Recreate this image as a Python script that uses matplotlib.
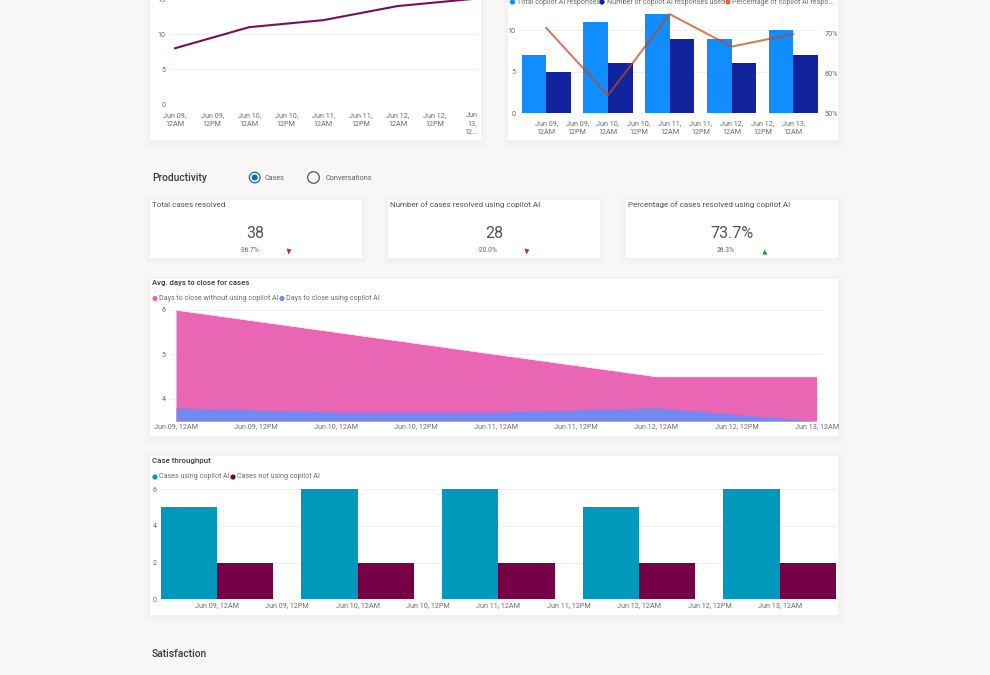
import matplotlib
matplotlib.use("Agg")
import matplotlib.pyplot as plt
from matplotlib.patches import Rectangle, Circle

plt.rcParams['font.family'] = ['Roboto', 'DejaVu Sans']

W = 990; H = 675
bg_color = '#f8f7f6'
title_color = '#3b3a39'
tick_color = '#6f6d6b'
grid_color = '#f0f0f0'

# Half day tick labels
half_days = ['Jun 09, 12AM', 'Jun 09, 12PM', 'Jun 10, 12AM', 'Jun 10, 12PM', 'Jun 11, 12AM',
             'Jun 11, 12PM', 'Jun 12, 12AM', 'Jun 12, 12PM', 'Jun 13, 12AM']
half_days_wrapped = ['Jun 09,\n12AM', 'Jun 09,\n12PM', 'Jun 10,\n12AM', 'Jun 10,\n12PM', 'Jun 11,\n12AM',
                     'Jun 11,\n12PM', 'Jun 12,\n12AM', 'Jun 12,\n12PM', 'Jun 13,\n12AM']
half_days_cut = half_days_wrapped[:-1] + ['Jun\n13,\n12...']
tick_pos = [0, 1, 2, 3, 4, 5, 6, 7, 8]
day_pos = [0, 2, 4, 6, 8]

# Top left line chart
line_values = [8, 11, 12, 14, 15]

# Top right combo chart
total_responses = [7, 11, 12, 9, 10]
used_responses = [5, 6, 9, 6, 7]
pct_responses = [71.5, 54.5, 75, 66.8, 70]

# KPI cards
kpi_titles = ['Total cases resolved', 'Number of cases resolved using copilot AI',
              'Percentage of cases resolved using copilot AI']
kpi_values = ['38', '28', '73.7%']
kpi_deltas = ['-36.7%', '-20.0%', '26.3%']

# Avg. days to close
days_without = [6, 5.5, 5, 4.5, 4.5]
days_with = [3.8, 3.7, 3.7, 3.8, 3.5]

# Case throughput
cases_using = [5, 6, 6, 5, 6]
cases_not_using = [2, 2, 2, 2, 2]


def px_axes(left, top, right, bottom, pad=3):
    ax = fig.add_axes([left/W, 1-bottom/H, (right-left)/W, (bottom-top)/H])
    ax.patch.set_visible(False)
    for s in ax.spines.values():
        s.set_visible(False)
    ax.tick_params(length=0, labelsize=5.2, labelcolor=tick_color)
    ax.tick_params(axis='y', pad=3)
    ax.tick_params(axis='x', pad=pad)
    ax.grid(axis='y', color=grid_color, lw=0.8)
    ax.set_axisbelow(True)
    return ax


def card(x0, y0, x1, y1):
    for i in range(7, 0, -1):
        bg.add_patch(Rectangle((x0-i+1, y0-i+3), x1-x0+2*i-2, y1-y0+2*i-2,
                               fc='#b0aca8', ec='none', alpha=0.011))
    bg.add_patch(Rectangle((x0, y0), x1-x0, y1-y0, fc='white', ec='none'))


def legend(y, items, size=5.15):
    for x_dot, x_text, color, label in items:
        bg.add_patch(Circle((x_dot, y), 2.6, fc=color, ec='none'))
        bg.text(x_text, y, label, fontsize=size, color='#6f6d6b', va='center', ha='left')


fig = plt.figure(figsize=[W/100, H/100], dpi=100, facecolor=bg_color)
bg = fig.add_axes([0, 0, 1, 1])
bg.set_xlim(0, W); bg.set_ylim(H, 0)
bg.axis('off')

card(150, -20, 481, 140)
card(508, -20, 838, 140)
card(150, 200, 362, 258)
card(388, 200, 600, 258)
card(626, 200, 838, 258)
card(150, 279, 838, 436)
card(150, 456, 838, 615)

# Line chart ##################################################################
ax1 = px_axes(170, -8, 478, 104.5, pad=5.5)
ax1.plot(day_pos, line_values, color='#740f58', lw=1.5)
ax1.set_xlim(-0.135, 8.17)
ax1.set_ylim(0, 16)
ax1.set_yticks([0, 5, 10, 15])
ax1.set_xticks(tick_pos, half_days_cut, linespacing=1.3)

# Combo chart #################################################################
ax2 = px_axes(520, -2.8, 818, 113, pad=5.5)
ax2.bar([p-0.4 for p in day_pos], total_responses, width=0.8, color='#118DFF')
ax2.bar([p+0.4 for p in day_pos], used_responses, width=0.8, color='#12239E')
ax2.set_xlim(-0.85, 8.8)
ax2.set_ylim(0, 14)
ax2.set_yticks([0, 5, 10])
ax2.set_xticks(tick_pos, half_days_wrapped, linespacing=1.3)
ax2b = ax2.twinx()
ax2b.patch.set_visible(False)
for s in ax2b.spines.values():
    s.set_visible(False)
ax2b.plot(day_pos, pct_responses, color='#c2481a', lw=1.5, alpha=0.7)
ax2b.set_ylim(50, 79.3)
ax2b.set_yticks([50, 60, 70], ['50%', '60%', '70%'])
ax2b.tick_params(length=0, labelsize=5.2, labelcolor=tick_color, pad=4.5)

legend(2, [(512.5, 517, '#118DFF', 'Total copilot AI responses'),
           (602, 607, '#12239E', 'Number of copilot AI responses used'),
           (728, 732, '#E66C37', 'Percentage of copilot AI respo...')])

# Productivity header #########################################################
bg.text(152, 178, 'Productivity', fontsize=7.4, fontweight='medium', color=title_color, va='center')
bg.add_patch(Circle((254.7, 177.5), 5.3, fc='white', ec='#0f6cbd', lw=0.9))
bg.add_patch(Circle((254.7, 177.5), 3, fc='#0f6cbd', ec='none'))
bg.text(265, 178, 'Cases', fontsize=5.2, color='#605e5c', va='center')
bg.add_patch(Circle((313.5, 177.5), 5.8, fc='white', ec='#555555', lw=0.9))
bg.text(326, 178, 'Conversations', fontsize=5.2, color='#605e5c', va='center')

# KPI cards ###################################################################
kpi_title_x = [152, 390, 628]
kpi_value_x = [255.5, 494, 732]
kpi_delta_x = [249.5, 488, 726]
kpi_tri_x = [288, 526, 764.3]
for i in range(3):
    bg.text(kpi_title_x[i], 205, kpi_titles[i], fontsize=5.8, color='#555351', va='center')
    bg.text(kpi_value_x[i], 234, kpi_values[i], fontsize=11.5, color='#555555', va='center', ha='center')
    bg.text(kpi_delta_x[i], 250.5, kpi_deltas[i], fontsize=4.8, color='#605e5c', va='center', ha='center')
    if kpi_deltas[i].startswith('-'):
        bg.plot(kpi_tri_x[i], 250.7, marker='v', ms=3.6, color='#b8323f', mec='none')
    else:
        bg.plot(kpi_tri_x[i], 250.7, marker='^', ms=3.6, color='#2f8f3a', mec='none')

# Area chart ##################################################################
bg.text(152, 283, 'Avg. days to close for cases', fontsize=5.6, fontweight='medium', color=title_color, va='center')
legend(298.5, [(155, 159, '#E966B5', 'Days to close without using copilot AI'),
               (282, 286, '#7488EE', 'Days to close using copilot AI')])
ax3 = px_axes(170, 310, 823, 421, pad=1.5)
ax3.fill_between(day_pos, 3.5, days_without, color='#E966B5', lw=0)
ax3.plot(day_pos, days_without, color='#fbe3f2', lw=0.7)
ax3.fill_between(day_pos, 3.5, days_with, color='#7488EE', lw=0)
ax3.set_xlim(-0.075, 8.08)
ax3.set_ylim(3.5, 6)
ax3.set_yticks([4, 5, 6])
ax3.set_xticks(tick_pos, half_days)

# Throughput chart ############################################################
bg.text(152, 461, 'Case throughput', fontsize=5.7, fontweight='medium', color=title_color, va='center')
legend(477, [(155, 159, '#0099BC', 'Cases using copilot AI'),
             (233, 237, '#750046', 'Cases not using copilot AI')])
ax4 = px_axes(160.7, 489, 836, 599.3, pad=2)
ax4.bar([p-0.4 for p in day_pos], cases_using, width=0.8, color='#0099BC')
ax4.bar([p+0.4 for p in day_pos], cases_not_using, width=0.8, color='#750046')
ax4.set_xlim(-0.8, 8.8)
ax4.set_ylim(0, 6)
ax4.set_yticks([0, 2, 4, 6])
ax4.set_xticks(tick_pos, half_days)

bg.text(152, 654, 'Satisfaction', fontsize=7.4, fontweight='medium', color=title_color, va='center')

plt.savefig("out.png", dpi=100, facecolor=bg_color)
